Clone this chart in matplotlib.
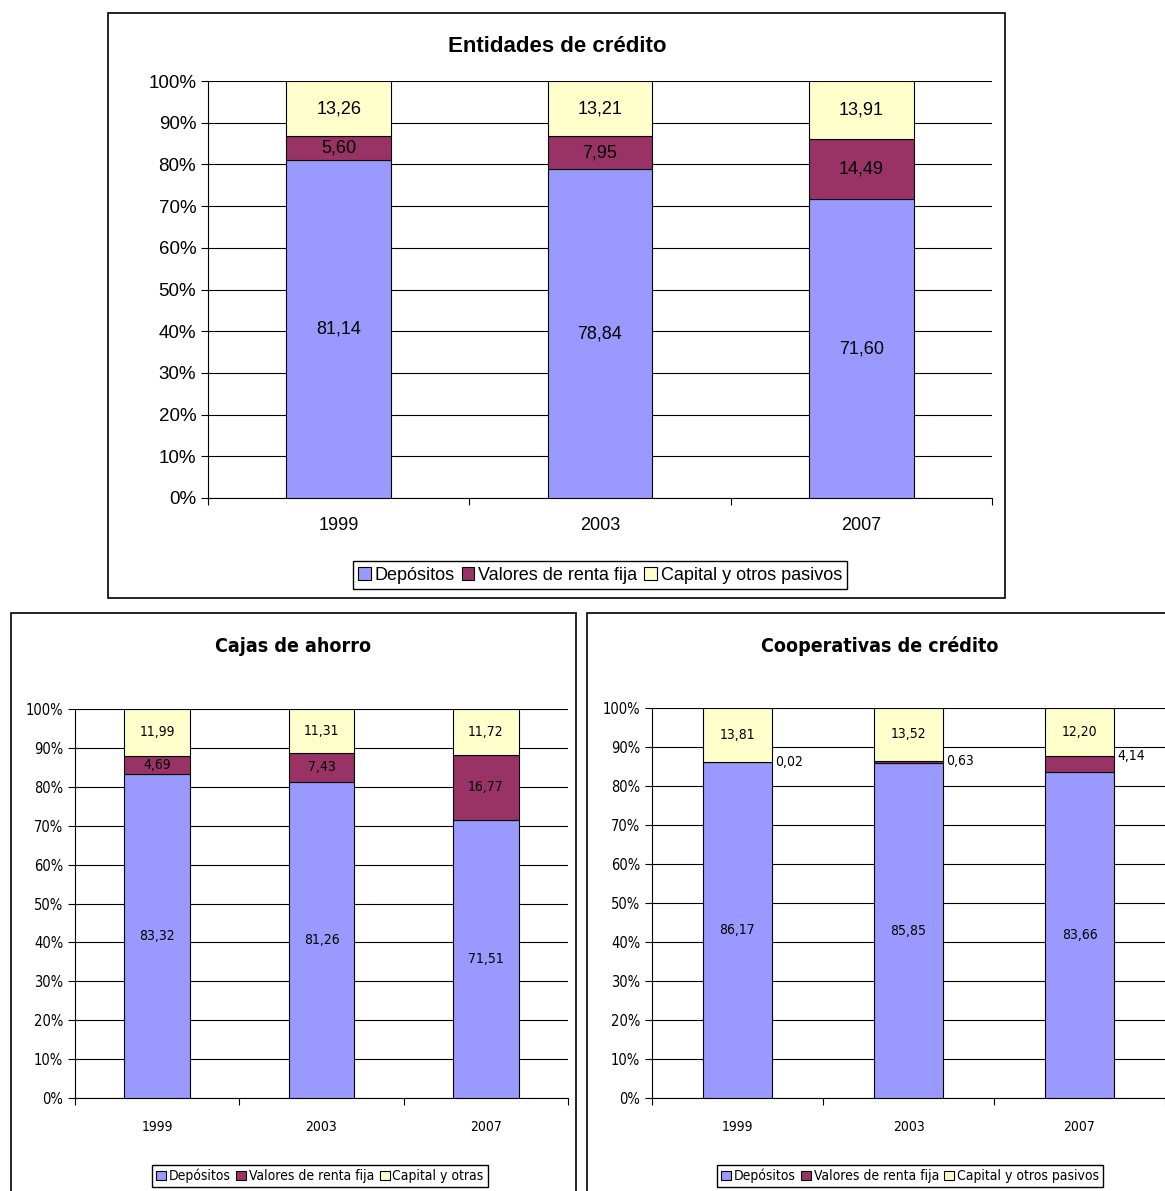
import matplotlib.pyplot as plt
from matplotlib.patches import Rectangle
from matplotlib.ticker import FixedLocator

years = ['1999', '2003', '2007']
series = ['Depósitos', 'Valores de renta fija', 'Capital y otros pasivos']
colors = ['#9999FF', '#993366', '#FFFFCC']

ent_dep = [81.14, 78.84, 71.60]
ent_val = [5.60, 7.95, 14.49]
ent_cap = [13.26, 13.21, 13.91]

caj_dep = [83.32, 81.26, 71.51]
caj_val = [4.69, 7.43, 16.77]
caj_cap = [11.99, 11.31, 11.72]

coo_dep = [86.17, 85.85, 83.66]
coo_val = [0.02, 0.63, 4.14]
coo_cap = [13.81, 13.52, 12.20]

W, H = 1165, 1191
fig = plt.figure(figsize=(W / 100, H / 100), dpi=100)


def box(x0, y0, x1, y1):
    fig.patches.append(Rectangle((x0 / W, 1 - y1 / H), (x1 - x0) / W, (y1 - y0) / H,
                                 transform=fig.transFigure, fill=False,
                                 edgecolor='black', linewidth=1.2))


def panel(rect, title, title_xy, dep, val, cap, fp, fs, tfs, legend_labels, legend_xy,
          outside_small=False, xpad=16):
    x0, y0, x1, y1 = rect
    ax = fig.add_axes([x0 / W, 1 - y1 / H, (x1 - x0) / W, (y1 - y0) / H])
    xs = range(len(years))
    vals = [dep, val, cap]
    bottom = [0] * 3
    handles = []
    for s, v, c in zip(series, vals, colors):
        h = ax.bar(xs, v, 0.4, bottom=bottom, color=c, edgecolor='black', linewidth=0.8, zorder=3)
        handles.append(h)
        for i in xs:
            txt = f'{v[i]:.2f}'.replace('.', ',')
            yc = bottom[i] + v[i] / 2
            if outside_small and s == series[1]:
                ax.text(i + 0.22, bottom[i] + v[i], txt, ha='left', va='center',
                        fontsize=fs, zorder=4, **fp)
            else:
                ax.text(i, yc, txt, ha='center', va='center', fontsize=fs, zorder=4, **fp)
        bottom = [b + x for b, x in zip(bottom, v)]
    ax.set_xlim(-0.5, 2.5)
    ax.set_ylim(0, 100)
    ax.set_yticks(range(0, 101, 10))
    ax.set_yticklabels([f'{t}%' for t in range(0, 101, 10)], fontsize=fs + 0.5, **fp)
    ax.yaxis.grid(True, color='black', linewidth=0.8, zorder=0)
    ax.set_xticks([-0.5, 0.5, 1.5, 2.5])
    ax.set_xticklabels([])
    ax.xaxis.set_minor_locator(FixedLocator([0, 1, 2]))
    ax.set_xticklabels(years, minor=True, fontsize=fs, **fp)
    ax.tick_params(axis='x', which='minor', length=0, pad=xpad)
    ax.tick_params(axis='both', which='major', length=5, direction='out')
    for sp in ['top', 'right']:
        ax.spines[sp].set_visible(False)
    fig.text(title_xy[0] / W, 1 - title_xy[1] / H, title, ha='center', va='center',
             fontsize=tfs, fontweight='bold', **fp)
    fig.legend(handles, legend_labels, loc='center',
               bbox_to_anchor=(legend_xy[0] / W, 1 - legend_xy[1] / H),
               ncol=3, prop=dict(size=fs, **{k.replace('font', ''): v for k, v in fp.items()}),
               frameon=True, fancybox=False, framealpha=1,
               edgecolor='black', handlelength=0.7, handleheight=0.7, handletextpad=0.2,
               columnspacing=0.4, borderpad=0.3)
    return ax


box(108, 13, 1005, 598)
box(11, 613, 576, 1195)
box(587, 613, 1170, 1195)

wide = {'family': 'Liberation Sans'}
narrow = {'family': 'DejaVu Sans', 'fontstretch': 'condensed'}
panel((208, 81, 992, 498), 'Entidades de crédito', (557, 46), ent_dep, ent_val, ent_cap,
      wide, 13, 16, series, (600, 575), xpad=14)
panel((75, 709, 568, 1098), 'Cajas de ahorro', (293, 646), caj_dep, caj_val, caj_cap,
      narrow, 10, 14, ['Depósitos', 'Valores de renta fija', 'Capital y otras'], (320, 1176))
panel((652, 708, 1165, 1098), 'Cooperativas de crédito', (880, 646), coo_dep, coo_val, coo_cap,
      narrow, 10, 14, series, (910, 1176), outside_small=True)

fig.savefig('out.png', dpi=100)
